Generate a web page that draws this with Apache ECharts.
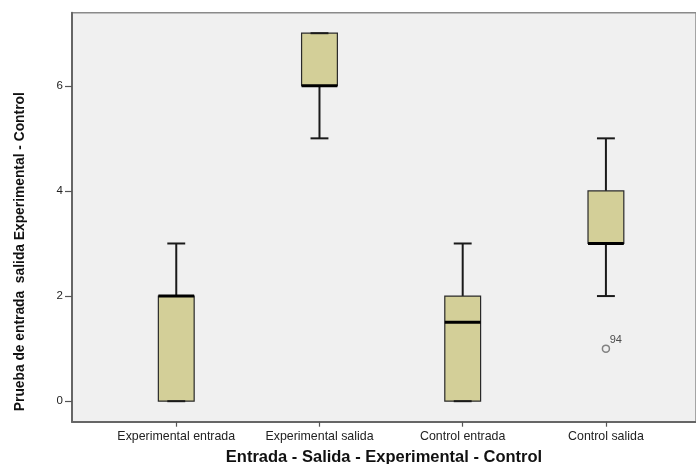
<!DOCTYPE html>
<html>
<head>
<meta charset="utf-8">
<script src="https://cdn.jsdelivr.net/npm/echarts@6/dist/echarts.min.js"></script>
<style>
  html, body { margin: 0; padding: 0; background: #ffffff; }
  #chart { width: 696px; height: 464px; }
</style>
</head>
<body>
<div id="chart"></div>
<script>
// Groups shown along the horizontal axis
const categories = ['Experimental entrada', 'Experimental salida', 'Control entrada', 'Control salida'];
// Five-number summaries per group
const whiskerLow = [0, 5, 0, 2];
const quartile1  = [0, 6, 0, 3];
const medians    = [2, 6, 1.5, 3];
const quartile3  = [2, 7, 2, 4];
const whiskerHigh = [3, 7, 3, 5];
// Outlying cases: group index, value, case id
const outlierGroup = [3];
const outlierValue = [1];
const outlierLabels = ['94'];
// Ticks on the value axis
const yTicks = [0, 2, 4, 6];

const boxData = categories.map((c, i) => [i + 1, whiskerLow[i], quartile1[i], medians[i], quartile3[i], whiskerHigh[i]]);
const outlierData = outlierGroup.map((g, i) => ({ value: [g + 1, outlierValue[i]], caseId: outlierLabels[i] }));

const FONT = '"Liberation Sans", Arial, sans-serif';

function renderBox(params, api) {
  const x = api.value(0);
  const lo = api.coord([x, api.value(1)]);
  const q1 = api.coord([x, api.value(2)]);
  const med = api.coord([x, api.value(3)]);
  const q3 = api.coord([x, api.value(4)]);
  const hi = api.coord([x, api.value(5)]);
  const bw = api.size([1, 0])[0] * 0.25;
  const cw = bw / 2;
  const cx = lo[0];
  const wStyle = { stroke: '#1a1a1a', lineWidth: 2 };
  return {
    type: 'group',
    children: [
      { type: 'line', shape: { x1: cx, y1: q3[1], x2: cx, y2: hi[1] }, style: wStyle },
      { type: 'line', shape: { x1: cx, y1: q1[1], x2: cx, y2: lo[1] }, style: wStyle },
      { type: 'rect', shape: { x: cx - bw / 2, y: q3[1], width: bw, height: q1[1] - q3[1] },
        style: { fill: '#d3cf98', stroke: '#2a2a2a', lineWidth: 1.2 } },
      { type: 'line', shape: { x1: cx - cw / 2, y1: hi[1], x2: cx + cw / 2, y2: hi[1] }, style: wStyle },
      { type: 'line', shape: { x1: cx - cw / 2, y1: lo[1], x2: cx + cw / 2, y2: lo[1] }, style: wStyle },
      { type: 'line', shape: { x1: cx - bw / 2, y1: med[1], x2: cx + bw / 2, y2: med[1] },
        style: { stroke: '#000000', lineWidth: 3 } }
    ]
  };
}

const chart = echarts.init(document.getElementById('chart'));
chart.setOption({
  animation: false,
  backgroundColor: '#ffffff',
  grid: {
    left: 72, top: 12.7, bottom: 42.3, right: 0,
    outerBoundsMode: 'none',
    show: true, backgroundColor: '#f0f0f0', borderColor: '#8a8a8a', borderWidth: 1.5
  },
  xAxis: {
    type: 'value', min: 0.272, max: 4.629,
    name: 'Entrada - Salida - Experimental - Control',
    nameLocation: 'middle', nameGap: 27,
    nameTextStyle: { fontFamily: FONT, fontSize: 16.5, fontWeight: 'bold', color: '#111' },
    splitLine: { show: false },
    axisLine: { show: true, onZero: false, lineStyle: { color: '#666', width: 2 } },
    axisTick: { show: true, customValues: [1, 2, 3, 4], length: 5, lineStyle: { color: '#555', width: 1.2 } },
    axisLabel: { customValues: [1, 2, 3, 4], formatter: v => categories[Math.round(v) - 1] || '',
      fontFamily: FONT, fontSize: 12.4, color: '#222', margin: 9 }
  },
  yAxis: {
    type: 'value', min: -0.39, max: 7.39,
    name: 'Prueba de entrada  salida Experimental - Control',
    nameLocation: 'middle', nameGap: 45,
    nameTextStyle: { fontFamily: FONT, fontSize: 13.8, fontWeight: 'bold', color: '#111', padding: [0, 69, 0, 0] },
    splitLine: { show: false },
    axisLine: { show: true, onZero: false, lineStyle: { color: '#666', width: 2 } },
    axisTick: { show: true, customValues: yTicks, length: 7, lineStyle: { color: '#555', width: 1.2 } },
    axisLabel: { customValues: yTicks, fontFamily: FONT, fontSize: 11.5, color: '#222', margin: 9 }
  },
  series: [
    {
      type: 'custom',
      renderItem: renderBox,
      data: boxData,
      encode: { x: 0, y: [1, 2, 3, 4, 5] },
      z: 3
    },
    {
      type: 'scatter',
      data: outlierData,
      symbol: 'circle',
      symbolSize: 7,
      itemStyle: { color: 'rgba(0,0,0,0)', borderColor: '#666', borderWidth: 1.5 },
      label: {
        show: true, position: [8, -10], formatter: p => p.data.caseId,
        fontFamily: FONT, fontSize: 11, color: '#222'
      },
      z: 4
    }
  ]
});
</script>
</body>
</html>
